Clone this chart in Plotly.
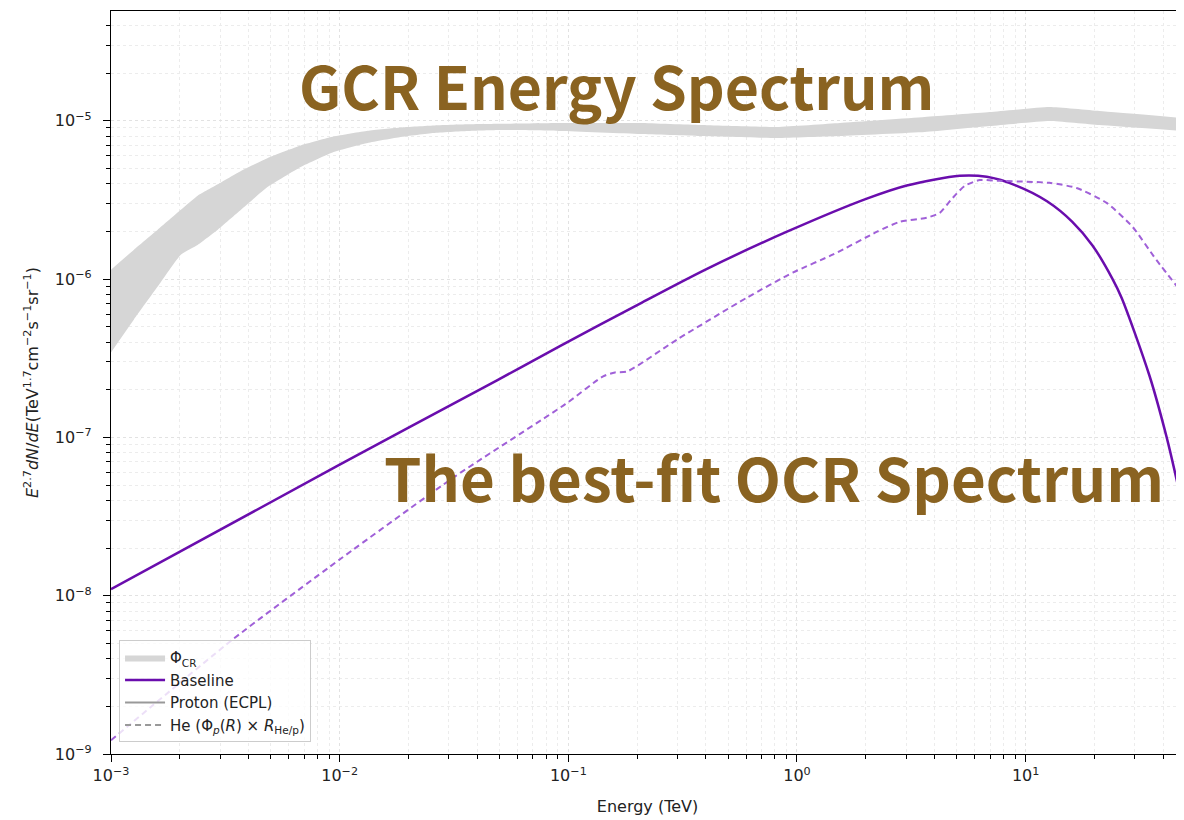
import plotly.graph_objects as go

# ---- data ----
band_energy = [0.001, 0.00126, 0.00160, 0.00202, 0.00240, 0.00293, 0.00370, 0.00485,
               0.00676, 0.00941, 0.01326, 0.01847, 0.02574, 0.03622, 0.05046, 0.0923,
               0.206, 0.377, 0.818, 1.54, 3.62, 6.96, 12.7, 21.0, 49.0]
band_upper = [1.146e-6, 1.532e-6, 2.048e-6, 2.737e-6, 3.373e-6, 3.968e-6, 4.819e-6, 5.821e-6,
              6.979e-6, 7.940e-6, 8.637e-6, 9.062e-6, 9.328e-6, 9.49e-6, 9.56e-6, 9.67e-6,
              9.67e-6, 9.39e-6, 9.13e-6, 9.67e-6, 1.055e-5, 1.134e-5, 1.220e-5, 1.151e-5, 1.040e-5]
band_lower = [3.437e-7, 5.549e-7, 8.957e-7, 1.425e-6, 1.647e-6, 2.048e-6, 2.737e-6, 3.821e-6,
              5.108e-6, 6.349e-6, 7.236e-6, 7.893e-6, 8.367e-6, 8.612e-6, 8.738e-6, 8.612e-6,
              8.246e-6, 8.010e-6, 7.781e-6, 8.010e-6, 8.488e-6, 9.26e-6, 9.96e-6, 9.39e-6, 8.612e-6]

base_energy = [0.001, 0.01, 0.049, 0.0923, 0.200, 0.404, 0.904, 2.02, 3.02, 5.15, 6.76,
               9.15, 12.4, 16.0, 19.6, 24.0, 26.3, 34.8, 41.3, 45.6, 49.0]
base_flux = [1.10e-8, 6.72e-8, 2.30e-7, 3.78e-7, 6.85e-7, 1.16e-6, 1.99e-6, 3.22e-6, 3.90e-6,
             4.49e-6, 4.42e-6, 3.88e-6, 3.10e-6, 2.30e-6, 1.63e-6, 1.00e-6, 7.60e-7, 2.45e-7,
             1.01e-7, 5.50e-8, 3.40e-8]

he_energy = [0.001, 0.00344, 0.0101, 0.0321, 0.0970, 0.142, 0.160, 0.181, 0.299, 0.605,
             0.962, 1.44, 2.24, 2.82, 3.70, 4.21, 4.80, 5.42, 6.30, 7.70, 12.7, 16.7,
             22.6, 29.3, 37.3, 49.0]
he_flux = [1.22e-9, 5.35e-9, 1.71e-8, 5.69e-8, 1.62e-7, 2.43e-7, 2.57e-7, 2.61e-7, 4.15e-7,
           7.64e-7, 1.10e-6, 1.43e-6, 1.99e-6, 2.30e-6, 2.44e-6, 2.62e-6, 3.26e-6, 3.88e-6,
           4.22e-6, 4.17e-6, 4.05e-6, 3.76e-6, 3.03e-6, 2.14e-6, 1.32e-6, 7.98e-7]

x_tick_vals = [1e-3, 1e-2, 1e-1, 1e0, 1e1]
x_tick_text = ["10<sup>−3</sup>", "10<sup>−2</sup>", "10<sup>−1</sup>", "10<sup>0</sup>", "10<sup>1</sup>"]
y_tick_vals = [1e-9, 1e-8, 1e-7, 1e-6, 1e-5]
y_tick_text = ["10<sup>−9</sup>", "10<sup>−8</sup>", "10<sup>−7</sup>", "10<sup>−6</sup>", "10<sup>−5</sup>"]

x_minor = [m * 10.0 ** k for k in range(-3, 2) for m in range(2, 10)]
y_minor = [m * 10.0 ** k for k in range(-9, -4) for m in range(2, 10)]

PURPLE = "#6a0dad"
HE_PURPLE = "#a060d8"
BAND = "#d6d6d6"
TXT = "#8a6321"
FONT = "DejaVu Sans"

fig = go.Figure()

# GCR band
fig.add_trace(go.Scatter(x=band_energy, y=band_lower, mode="lines",
                         line=dict(width=0, color=BAND, shape="spline", smoothing=0.4),
                         showlegend=False, hoverinfo="skip"))
fig.add_trace(go.Scatter(x=band_energy, y=band_upper, mode="lines", fill="tonexty",
                         fillcolor=BAND, line=dict(width=0, color=BAND, shape="spline", smoothing=0.4),
                         name="Φ<sub>CR</sub>"))

# curves
fig.add_trace(go.Scatter(x=base_energy, y=base_flux, mode="lines",
                         line=dict(color=PURPLE, width=2.5, shape="spline", smoothing=0.8),
                         name="Baseline"))
fig.add_trace(go.Scatter(x=[None], y=[None], mode="lines",
                         line=dict(color="#999999", width=2), name="Proton (ECPL)"))
fig.add_trace(go.Scatter(x=[None], y=[None], mode="lines",
                         line=dict(color="#999999", width=2, dash="6px,4px"),
                         name="He (Φ<sub><i>p</i></sub>(<i>R</i>) × <i>R</i><sub>He/p</sub>)"))
fig.add_trace(go.Scatter(x=he_energy, y=he_flux, mode="lines",
                         line=dict(color=HE_PURPLE, width=2, dash="6px,4px", shape="spline", smoothing=0.6),
                         showlegend=False))

axis_common = dict(
    type="log", showline=True, linecolor="black", linewidth=1.2, automargin=False,
    ticks="outside", ticklen=7, tickwidth=1.2, tickcolor="black",
    showgrid=True, gridcolor="#e2e2e2", griddash="dot", gridwidth=1,
    tickfont=dict(family=FONT, size=16, color="#222"), zeroline=False,
)

fig.update_xaxes(
    **axis_common, range=[-3, 1.6925], mirror=True,
    tickmode="array", tickvals=x_tick_vals, ticktext=x_tick_text,
    minor=dict(tickmode="array", tickvals=x_minor, ticks="outside", ticklen=4,
               tickcolor="black", showgrid=True, gridcolor="#ececec", griddash="dot"),
    title=dict(text="Energy (TeV)", font=dict(family=FONT, size=16, color="#222"), standoff=16),
)
fig.update_yaxes(
    **axis_common, range=[-9, -4.307], mirror=False, ticklabelstandoff=8,
    tickmode="array", tickvals=y_tick_vals, ticktext=y_tick_text,
    minor=dict(tickmode="array", tickvals=y_minor, ticks="outside", ticklen=4,
               tickcolor="black", showgrid=True, gridcolor="#ececec", griddash="dot"),
    title=dict(text="<i>E</i><sup>2.7</sup><i>dN</i>/<i>dE</i>(TeV<sup>1.7</sup>cm<sup>−2</sup>s<sup>−1</sup>sr<sup>−1</sup>)",
               font=dict(family=FONT, size=16, color="#222"), standoff=12),
)

fig.add_annotation(text="GCR Energy Spectrum", xref="paper", yref="paper",
                   x=0.4716, y=0.901, xanchor="center", yanchor="middle", showarrow=False,
                   font=dict(family="Noto Sans CJK SC", size=59, color=TXT, weight="bold"))
fig.add_annotation(text="The best-fit OCR Spectrum", xref="paper", yref="paper",
                   x=0.618, y=0.375, xanchor="center", yanchor="middle", showarrow=False,
                   font=dict(family="Noto Sans CJK SC", size=60, color=TXT, weight="bold"))

fig.update_layout(
    width=1176, height=812,
    margin=dict(l=103, r=0, t=3, b=66),
    paper_bgcolor="white", plot_bgcolor="white",
    legend=dict(x=0.0075, y=0.153, xanchor="left", yanchor="top", itemwidth=40,
                bgcolor="rgba(255,255,255,0.8)", bordercolor="#cccccc", borderwidth=1,
                font=dict(family=FONT, size=15, color="#222"), traceorder="normal"),
)

fig.write_html("out.html")
